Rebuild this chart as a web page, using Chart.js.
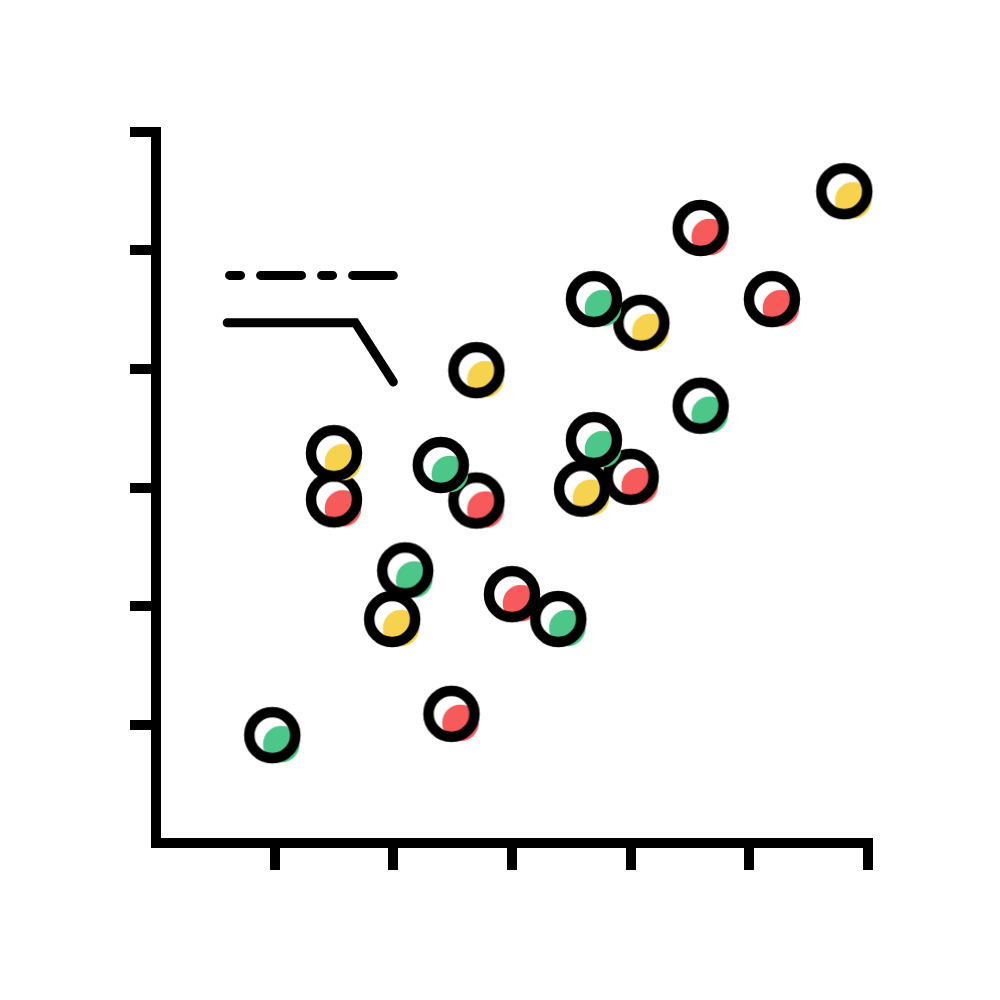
<!DOCTYPE html>
<html>
<head>
<meta charset="utf-8">
<script src="https://cdn.jsdelivr.net/npm/chart.js@4.4.1/dist/chart.umd.min.js"></script>
<style>
    html, body { margin: 0; padding: 0; background: #fff; }
    #chart { display: block; }
</style>
</head>
<body>
<canvas id="chart" width="1000" height="1000"></canvas>
<script>
// Scatter values, one pair of arrays per colour
const greenX = [0.98, 2.10, 2.40, 3.39, 3.69, 3.69, 4.59];
const greenY = [0.91, 2.30, 3.19, 1.89, 4.59, 3.40, 3.69];
const yellowX = [1.50, 1.99, 2.70, 4.09, 3.59, 5.80];
const yellowY = [3.29, 1.89, 3.99, 4.39, 2.99, 5.50];
const redX = [1.50, 2.70, 2.49, 3.00, 4.00, 4.59, 5.19];
const redY = [2.90, 2.89, 1.09, 2.10, 3.09, 5.19, 4.59];

// The two legend-like strokes in the upper left
const dashX = [0.62, 2.00];
const dashY = [4.79, 4.79];
const bentX = [0.60, 1.68, 2.00];
const bentY = [4.39, 4.39, 3.89];

// Axis ticks (no labels, only marks)
const axisTicks = [0, 1, 2, 3, 4, 5, 6];

const COLORS = { green: '#4dc68a', yellow: '#f6d24f', red: '#f65a5a' };

// Helper: zip two arrays into {x, y} points
function toPoints(xs, ys) {
    return xs.map((x, i) => ({ x: x, y: ys[i] }));
}

// Helper: ring marker with offset coloured dot, used as pointStyle
function makeMarker(color) {
    const c = document.createElement('canvas');
    c.width = 80;
    c.height = 80;
    const ctx = c.getContext('2d');
    ctx.fillStyle = color;
    ctx.beginPath();
    ctx.arc(49, 49, 18.3, 0, Math.PI * 2);
    ctx.fill();
    ctx.strokeStyle = '#000';
    ctx.lineWidth = 10.5;
    ctx.beginPath();
    ctx.arc(40, 40, 23, 0, Math.PI * 2);
    ctx.stroke();
    return c;
}

function pointSet(xs, ys, color) {
    return {
        type: 'scatter',
        data: toPoints(xs, ys),
        pointStyle: makeMarker(color),
        pointRadius: 30,
        pointHoverRadius: 30,
        clip: false
    };
}

function strokeSet(xs, ys, dash) {
    return {
        type: 'line',
        data: toPoints(xs, ys),
        borderColor: '#000',
        borderWidth: 9,
        borderCapStyle: 'round',
        borderJoinStyle: 'miter',
        borderDash: dash,
        pointRadius: 0,
        tension: 0,
        fill: false
    };
}

const tickColor = ctx => (ctx.tick && ctx.tick.value === 0 ? 'rgba(0,0,0,0)' : '#000');

new Chart(document.getElementById('chart'), {
    type: 'scatter',
    data: {
        datasets: [
            strokeSet(dashX, dashY, [11, 20, 41, 20]),
            strokeSet(bentX, bentY, []),
            pointSet(greenX, greenY, COLORS.green),
            pointSet(yellowX, yellowY, COLORS.yellow),
            pointSet(redX, redY, COLORS.red)
        ]
    },
    options: {
        responsive: false,
        animation: false,
        events: [],
        layout: { padding: { top: 132, right: 132, left: 0, bottom: 0 } },
        plugins: {
            legend: { display: false },
            tooltip: { enabled: false }
        },
        scales: {
            x: {
                type: 'linear',
                min: axisTicks[0],
                max: axisTicks[axisTicks.length - 1],
                afterBuildTicks: scale => { scale.ticks = axisTicks.map(v => ({ value: v })); },
                afterFit: scale => { scale.height = 157; },
                ticks: { callback: () => '' },
                grid: {
                    drawOnChartArea: false,
                    drawTicks: true,
                    tickLength: 27,
                    lineWidth: 10,
                    tickWidth: 10,
                    tickColor: tickColor
                },
                border: { display: true, color: '#000', width: 10 }
            },
            y: {
                type: 'linear',
                min: axisTicks[0],
                max: axisTicks[axisTicks.length - 1],
                afterBuildTicks: scale => { scale.ticks = axisTicks.map(v => ({ value: v })); },
                afterFit: scale => { scale.width = 156; },
                ticks: { callback: () => '' },
                grid: {
                    drawOnChartArea: false,
                    drawTicks: true,
                    tickLength: 26,
                    lineWidth: 10,
                    tickWidth: 10,
                    tickColor: tickColor
                },
                border: { display: true, color: '#000', width: 10 }
            }
        }
    }
});
</script>
</body>
</html>
